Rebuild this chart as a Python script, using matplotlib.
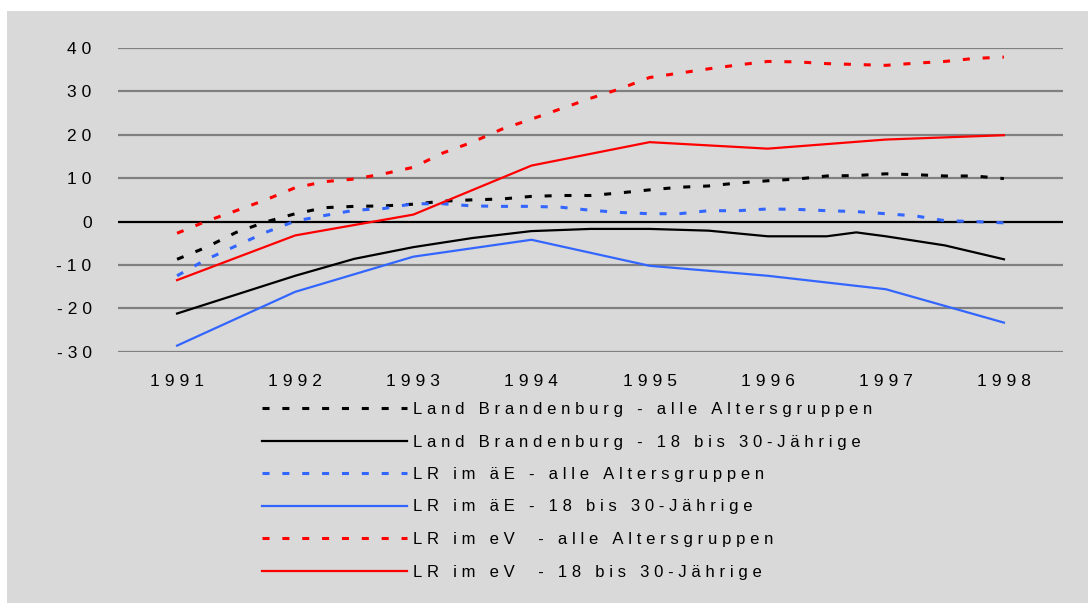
import matplotlib.pyplot as plt
from matplotlib.patches import Rectangle

# ==========================================
# DATEN
# ==========================================

jahre = [1991, 1992, 1993, 1994, 1995, 1996, 1997, 1998]
quartale = [1991 + i * 0.25 for i in range(29)]
bb_jung_x = [1991, 1992, 1992.5, 1993, 1993.5, 1994, 1994.5, 1995, 1995.5,
             1996, 1996.5, 1996.75, 1997, 1997.5, 1998]

bb_alle = [-8.7, -5.9, -2.5, -0.1, 1.8, 3.2, 3.5, 3.6, 4.0, 4.7, 5.0, 5.2,
           5.8, 6.0, 6.0, 6.6, 7.3, 7.9, 8.2, 8.9, 9.4, 9.8, 10.5, 10.6,
           11.0, 10.8, 10.5, 10.5, 9.9]
bb_jung = [-21.2, -12.5, -8.6, -5.9, -3.8, -2.2, -1.7, -1.7, -2.1,
           -3.4, -3.4, -2.5, -3.4, -5.5, -8.7]

ae_alle = [-12.5, -8.7, -5.6, -2.5, 0.1, 1.4, 2.6, 3.0, 4.1, 4.1, 3.6, 3.5,
           3.5, 3.3, 2.6, 2.1, 1.8, 1.8, 2.5, 2.5, 2.9, 2.8, 2.5, 2.3,
           1.8, 1.3, 0.2, 0.0, -0.3]
ae_jung = [-28.6, -16.2, -8.1, -4.2, -10.2, -12.5, -15.6, -23.3]

ev_alle = [-2.7, 0.1, 2.5, 5.0, 7.8, 9.2, 9.8, 11.0, 12.5, 15.8, 18.3, 21.3,
           23.6, 26.0, 28.4, 30.6, 33.2, 34.2, 35.2, 36.1, 36.9, 36.8, 36.4,
           36.2, 36.0, 36.5, 36.9, 37.6, 37.9]
ev_jung = [-13.5, -3.2, 1.6, 12.9, 18.3, 16.8, 18.9, 19.9]

y_ticks = [-30, -20, -10, 0, 10, 20, 30, 40]

labels = [
    "Land Brandenburg - alle Altersgruppen",
    "Land Brandenburg - 18 bis 30-Jährige",
    "LR im äE - alle Altersgruppen",
    "LR im äE - 18 bis 30-Jährige",
    "LR im eV  - alle Altersgruppen",
    "LR im eV  - 18 bis 30-Jährige",
]

SCHWARZ = "black"
BLAU = "#3366ff"
ROT = "#ff0000"
GRAU_BG = "#d9d9d9"


def gesperrt(text):
    # Buchstaben mit schmalem Abstand auseinanderziehen
    return "\u2009\u200a".join(text)


# ==========================================
# FIGUR
# ==========================================

plt.rcParams['font.family'] = ['Liberation Sans', 'DejaVu Sans']

fig = plt.figure(figsize=(10.88, 6.03), dpi=100)
fig.patch.set_facecolor("white")
fig.patches.append(Rectangle((7 / 1088, 0), 1, (603 - 11) / 603,
                             transform=fig.transFigure, facecolor=GRAU_BG,
                             edgecolor="none", zorder=-5))

ax = fig.add_axes([118 / 1088, 1 - 351.7 / 603, (1063 - 118) / 1088,
                   (351.7 - 48) / 603])
ax.set_facecolor("none")

for y in y_ticks:
    if y == 0:
        continue
    ax.axhline(y, color="#808080", lw=1.6, zorder=1)
ax.axhline(0, color="black", lw=1.6, zorder=1)

dash = (2.3, 4.2)
l1, = ax.plot(quartale, bb_alle, color=SCHWARZ, lw=2.2, dashes=dash, zorder=3)
l2, = ax.plot(bb_jung_x, bb_jung, color=SCHWARZ, lw=1.6, zorder=3)
l3, = ax.plot(quartale, ae_alle, color=BLAU, lw=2.2, dashes=dash, zorder=3)
l4, = ax.plot(jahre, ae_jung, color=BLAU, lw=1.6, zorder=3)
l5, = ax.plot(quartale, ev_alle, color=ROT, lw=2.2, dashes=dash, zorder=3)
l6, = ax.plot(jahre, ev_jung, color=ROT, lw=1.6, zorder=3)

ax.set_xlim(1990.5, 1998.5)
ax.set_ylim(-30, 40)
ax.set_xticks(jahre)
ax.set_xticklabels([gesperrt(str(j)) for j in jahre], fontsize=12.5)
ax.set_yticks(y_ticks)
ax.set_yticklabels([gesperrt(str(y)) for y in y_ticks], fontsize=12.5)
ax.tick_params(length=0)
ax.tick_params(axis="y", pad=19)
ax.tick_params(axis="x", pad=16)
for s in ax.spines.values():
    s.set_visible(False)

fig.legend([l1, l2, l3, l4, l5, l6], [gesperrt(t) for t in labels],
           loc="upper left", bbox_to_anchor=(262 / 1088, 1 - 402 / 603),
           frameon=False, fontsize=12, handlelength=8.7, handletextpad=0.35,
           labelspacing=1.05, borderaxespad=0, borderpad=0)

fig.savefig("out.png", dpi=100, facecolor=fig.get_facecolor())
